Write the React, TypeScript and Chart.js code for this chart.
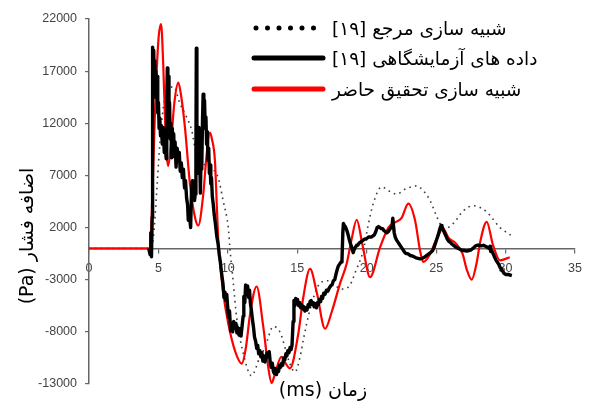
import React, { useEffect, useRef } from "react";
import { Chart, registerables } from "chart.js";

Chart.register(...registerables);

// ---- data (time in ms, overpressure in Pa) ----
const referenceSim: [number, number][] = [
  [0, 0], [4.5, 0], [4.7, 2000], [4.9, 6000], [5.1, 10000], [5.35, 13500], [5.7, 15200],
  [6.1, 15500], [6.55, 13900], [7.03, 12600], [7.4, 11300], [7.63, 9700], [8.0, 8500],
  [8.5, 7900], [8.9, 7600], [9.3, 6800], [9.67, 4500], [10.03, 2000], [10.15, 0],
  [10.4, -3400], [10.63, -6600], [11.1, -10000], [11.7, -12200], [12.31, -10400],
  [12.67, -9500], [13.27, -7500], [13.75, -8000], [14.47, -11050], [14.83, -11850],
  [15.2, -10400], [15.43, -8800], [15.91, -5900], [16.6, -3400], [17.2, -3100],
  [18.2, -3900], [18.8, -3500], [19.2, -2200], [19.75, -200], [20.1, 2200], [20.47, 4300],
  [21.08, 5900], [21.6, 5500], [22.16, 5200], [22.8, 5700], [23.6, 6000], [24.1, 5500],
  [24.56, 4600], [25.0, 3200], [25.27, 2400], [25.64, 1900], [26.24, 2400], [26.96, 3600],
  [27.68, 4100], [28.2, 3900], [28.64, 3500], [29.1, 2800], [29.6, 2000], [30.0, 1600],
  [30.4, 1250],
];

const experimental: [number, number][] = [
  [4.3, 0], [4.4, -600], [4.45, 1500], [4.5, -800], [4.55, 3000], [4.58, 19300],
  [4.62, 18500], [4.66, 19000], [4.7, 16000], [4.74, 18000], [4.78, 14500], [4.82, 17000],
  [4.86, 15000], [4.9, 16500], [4.95, 13000], [5.0, 14000], [5.05, 11500], [5.1, 12500],
  [5.15, 10800], [5.2, 11800], [5.28, 10000], [5.35, 11600], [5.42, 9200], [5.5, 9800],
  [5.56, 8600], [5.6, 14000], [5.64, 17300], [5.68, 15500], [5.72, 16500], [5.76, 12500],
  [5.8, 14000], [5.85, 10500], [5.9, 12000], [5.95, 8700], [6.0, 11500], [6.05, 9500],
  [6.1, 11000], [6.15, 8800], [6.2, 10200], [6.27, 7800], [6.35, 9600], [6.43, 8600],
  [6.5, 9200], [6.57, 7400], [6.65, 8200], [6.72, 6800], [6.8, 7600], [6.88, 5800],
  [6.95, 6500], [7.03, 4800], [7.1, 4200], [7.15, 2700], [7.22, 3400], [7.32, 2000],
  [7.38, 5400], [7.44, 6500], [7.48, 5200], [7.54, 6000], [7.6, 4600], [7.65, 5200],
  [7.7, 9000], [7.73, 19200], [7.77, 12000], [7.81, 9100], [7.86, 7200], [7.92, 11600],
  [7.97, 9000], [8.02, 5300], [8.07, 8800], [8.12, 7600], [8.17, 12000], [8.22, 14800],
  [8.27, 13000], [8.32, 14200], [8.37, 11500], [8.42, 12600], [8.47, 10000], [8.52, 11200],
  [8.57, 8400], [8.62, 9600], [8.67, 7200], [8.72, 8000], [8.77, 6200], [8.82, 6800],
  [8.88, 5000], [8.95, 4200], [9.02, 3200], [9.1, 2400], [9.2, 1200], [9.3, 400],
  [9.38, -600], [9.45, -1200], [9.55, -2400], [9.65, -3400], [9.72, -4700], [9.79, -4200],
  [9.85, -5000], [9.92, -4400], [9.98, -5500], [10.05, -6600], [10.12, -6000], [10.2, -7900],
  [10.27, -7200], [10.35, -8000], [10.42, -7000], [10.5, -7600], [10.58, -7200],
  [10.65, -8100], [10.72, -7600], [10.8, -8300], [10.87, -7700], [10.95, -8400],
  [11.02, -7500], [11.1, -6500], [11.15, -4600], [11.22, -5200], [11.28, -3500],
  [11.35, -4300], [11.42, -3600], [11.5, -4700], [11.56, -4000], [11.62, -5200],
  [11.7, -6000], [11.78, -6900], [11.85, -7600], [11.92, -8500], [12.0, -8900],
  [12.08, -9600], [12.15, -9300], [12.22, -10100], [12.3, -9800], [12.38, -10400],
  [12.45, -10000], [12.52, -10800], [12.6, -10300], [12.67, -10900], [12.75, -10500],
  [12.82, -10000], [12.9, -10400], [12.98, -9900], [13.05, -10900], [13.12, -11400],
  [13.2, -11000], [13.28, -11800], [13.35, -12000], [13.42, -11500], [13.5, -12100],
  [13.58, -11600], [13.65, -11800], [13.72, -11200], [13.8, -11400], [13.88, -11000],
  [13.95, -11200], [14.02, -10500], [14.1, -10700], [14.18, -10100], [14.25, -10300],
  [14.32, -9800], [14.4, -10000], [14.48, -9500], [14.55, -9700], [14.62, -9300],
  [14.7, -7000], [14.76, -5000], [14.82, -5500], [14.88, -4800], [14.95, -5300],
  [15.02, -4900], [15.1, -5500], [15.18, -5200], [15.25, -5700], [15.33, -5400],
  [15.4, -5800], [15.48, -5600], [15.55, -6000], [15.62, -5700], [15.7, -5900],
  [15.78, -5400], [15.85, -5600], [15.92, -5100], [16.0, -5000], [16.08, -5400],
  [16.15, -5200], [16.22, -5600], [16.3, -5300], [16.38, -5700], [16.45, -5200],
  [16.52, -5400], [16.6, -4900], [16.68, -5100], [16.75, -4600], [16.82, -4800],
  [16.9, -4300], [17.0, -4400], [17.1, -4000], [17.2, -4100], [17.3, -3800], [17.4, -3600],
  [17.5, -3500], [17.6, -3100], [17.7, -3000], [17.8, -2400], [17.88, -2000],
  [17.95, -1700], [18.05, -1500], [18.15, -1300], [18.22, -1100], [18.28, 1500],
  [18.32, 2400], [18.38, 2200], [18.45, 2100], [18.52, 1900], [18.6, 1600], [18.68, 1200],
  [18.75, 800], [18.82, 500], [18.9, 200], [18.98, -200], [19.03, -400], [19.1, -100],
  [19.18, 100], [19.27, 300], [19.35, 300], [19.45, 500], [19.55, 600], [19.65, 700],
  [19.75, 800], [19.85, 900], [19.95, 900], [20.05, 1000], [20.15, 1100], [20.25, 1100],
  [20.35, 1100], [20.45, 1200], [20.55, 1300], [20.65, 1600], [20.75, 2000], [20.85, 2100],
  [20.95, 2000], [21.05, 1900], [21.15, 1900], [21.25, 1700], [21.35, 1600], [21.45, 1500],
  [21.55, 1600], [21.65, 1800], [21.75, 2000], [21.82, 2100], [21.88, 2900], [21.92, 2300],
  [21.98, 1500], [22.05, 1100], [22.15, 800], [22.25, 600], [22.35, 400], [22.45, 200],
  [22.55, 0], [22.65, -200], [22.75, -400], [22.85, -500], [22.95, -500], [23.05, -600],
  [23.15, -700], [23.25, -700], [23.4, -800], [23.55, -900], [23.7, -950], [23.85, -1000],
  [24.0, -950], [24.15, -850], [24.3, -700], [24.45, -550], [24.6, -400], [24.75, -200],
  [24.85, 100], [24.95, 500], [25.05, 900], [25.15, 1300], [25.25, 1800], [25.35, 2200],
  [25.42, 2100], [25.5, 1800], [25.6, 1500], [25.7, 1200], [25.8, 900], [25.9, 700],
  [26.0, 600], [26.15, 400], [26.3, 250], [26.45, 100], [26.6, 0], [26.75, -100],
  [26.9, -200], [27.05, -200], [27.2, -250], [27.35, -200], [27.5, -150], [27.65, 0],
  [27.8, 200], [27.95, 300], [28.1, 300], [28.25, 250], [28.4, 300], [28.55, 200],
  [28.7, 100], [28.8, 0], [28.88, 200], [28.93, -300], [29.0, -200], [29.1, -500],
  [29.2, -800], [29.3, -1100], [29.4, -1300], [29.5, -1500], [29.6, -1800], [29.7, -2000],
  [29.8, -2200], [29.9, -2400], [30.0, -2500], [30.2, -2500], [30.45, -2600],
];

const presentSim: [number, number][] = [
  [0, 0], [4.4, 0], [4.51, 3000], [4.75, 13000], [5.0, 20000], [5.19, 21500], [5.35, 17500],
  [5.5, 11500], [5.7, 7900], [5.9, 10000], [6.15, 14000], [6.43, 15900], [6.65, 14500],
  [6.91, 11600], [7.27, 6200], [7.63, 3000], [7.87, 2200], [8.23, 5200], [8.47, 9000],
  [8.71, 11100], [8.85, 10500], [9.07, 8400], [9.19, 4600], [9.31, 800], [9.45, -1500],
  [9.67, -4300], [10.03, -7200], [10.51, -9800], [11.0, -11050], [11.3, -9500],
  [11.6, -6300], [12.07, -3650], [12.55, -7500], [12.91, -11400], [13.15, -12900],
  [13.4, -12000], [13.85, -10400], [14.15, -11000], [14.47, -11500], [15.07, -8200],
  [15.43, -4700], [15.92, -1950], [16.4, -4200], [17.0, -7700], [17.5, -6000],
  [18.07, -3400], [18.55, -1500], [18.9, 800], [19.28, 2750], [19.7, 300], [20.24, -2750],
  [20.96, 100], [21.56, 2000], [22.04, 2500], [22.5, 2900], [23.0, 4300], [23.48, 2700],
  [23.84, -200], [24.07, -1300], [24.5, -700], [25.0, 800], [25.5, 1900], [25.9, 1000],
  [26.4, 500], [26.9, -500], [27.2, -2000], [27.56, -3000], [27.9, -1500], [28.2, 800],
  [28.64, 2550], [29.1, 300], [29.6, -1150], [30.0, -1000], [30.3, -850],
];

const xTickValues = [0, 5, 10, 15, 20, 25, 30, 35];
const yTickValues = [-13000, -8000, -3000, 2000, 7000, 12000, 17000, 22000];

const seriesLabels = [
  "شبیه سازی مرجع [۱۹]",
  "داده های آزمایشگاهی [۱۹]",
  "شبیه سازی تحقیق حاضر",
];
const xAxisTitle = "زمان (ms)";
const yAxisTitle = "اضافه فشار (Pa)";

const ARABIC_FONT = '"DejaVu Sans", "Noto Sans", sans-serif';

const toPoints = (arr: [number, number][]) => arr.map(([x, y]) => ({ x, y }));

const annotationPlugin = {
  id: "annotationPlugin",
  afterDraw(chart: any) {
    const { ctx, chartArea } = chart;
    const L = chartArea.left;
    const T = chartArea.top;
    ctx.save();
    ctx.fillStyle = "#000";
    (ctx as any).direction = "rtl";

    // y-axis title (rotated)
    ctx.save();
    ctx.translate(L - 61, T + 217);
    ctx.rotate(-Math.PI / 2);
    ctx.font = `19px ${ARABIC_FONT}`;
    ctx.textAlign = "center";
    ctx.textBaseline = "middle";
    ctx.fillText(yAxisTitle, 0, 0);
    ctx.restore();

    // x-axis title
    ctx.font = `19px ${ARABIC_FONT}`;
    ctx.textAlign = "center";
    ctx.textBaseline = "middle";
    ctx.fillText(xAxisTitle, L + 234, T + 372);

    // legend
    const rows = [T + 9, T + 39, T + 70];
    const x0 = L + 165;
    const x1 = L + 234;
    const ds = chart.data.datasets;
    const legendOrder = [0, 1, 2];
    legendOrder.forEach((i, r) => {
      const d = ds[i];
      const y = rows[r];
      ctx.save();
      ctx.strokeStyle = i === 0 ? "#000" : d.borderColor;
      ctx.lineCap = "round";
      ctx.lineWidth = 5;
      if (i === 0) ctx.setLineDash([0, 11.5]);
      ctx.beginPath();
      ctx.moveTo(x0 + (i === 0 ? 2 : 0), y);
      ctx.lineTo(i === 0 ? x0 + 60 : x1, y);
      ctx.stroke();
      ctx.restore();
      ctx.font = `18.5px ${ARABIC_FONT}`;
      ctx.textAlign = "left";
      ctx.textBaseline = "middle";
      ctx.fillStyle = "#000";
      ctx.fillText(d.label, L + 243, y + 2);
    });
    ctx.restore();
  },
};

const tickFont = { family: '"Liberation Sans", Arial, sans-serif', size: 12.5 };

export default function App() {
  const canvasRef = useRef<HTMLCanvasElement | null>(null);

  useEffect(() => {
    if (!canvasRef.current) return;
    const chart = new Chart(canvasRef.current, {
      type: "line",
      data: {
        datasets: [
          {
            label: seriesLabels[0],
            data: toPoints(referenceSim),
            borderColor: "#3c3c3c",
            borderWidth: 1.6,
            borderDash: [1.6, 4.2],
            pointRadius: 0,
            cubicInterpolationMode: "monotone",
            order: 2,
          },
          {
            label: seriesLabels[1],
            data: toPoints(experimental),
            borderColor: "#000000",
            borderWidth: 3.4,
            pointRadius: 0,
            tension: 0,
            borderJoinStyle: "round",
            order: 0,
          },
          {
            label: seriesLabels[2],
            data: toPoints(presentSim),
            borderColor: "#ff0000",
            borderWidth: 2.2,
            pointRadius: 0,
            cubicInterpolationMode: "monotone",
            order: 1,
          },
        ],
      },
      options: {
        animation: false,
        responsive: false,
        parsing: false as any,
        layout: { padding: { left: 0, right: 17, top: 19, bottom: 20 } },
        plugins: {
          legend: { display: false },
          tooltip: { enabled: false },
          title: { display: false },
        },
        scales: {
          x: {
            type: "linear",
            position: { y: 0 } as any,
            min: 0,
            max: 35,
            afterBuildTicks: (s: any) => {
              s.ticks = xTickValues.map((v) => ({ value: v }));
            },
            grid: { display: true, drawOnChartArea: false, drawTicks: true, tickLength: 4, color: "#666", lineWidth: 1.2 },
            border: { display: true, color: "#666", width: 1.5 },
            ticks: {
              font: tickFont,
              color: "#444",
              padding: 9,
              maxRotation: 0,
              autoSkip: false,
              callback: (v: any) => String(v),
            },
          },
          y: {
            type: "linear",
            min: -13000,
            max: 22000,
            afterBuildTicks: (s: any) => {
              s.ticks = yTickValues.map((v) => ({ value: v }));
            },
            afterFit: (s: any) => {
              s.width = 89;
            },
            grid: { display: true, drawOnChartArea: false, drawTicks: true, tickLength: 4, color: "#666", lineWidth: 1.2 },
            border: { display: true, color: "#666", width: 1.5 },
            ticks: {
              font: tickFont,
              color: "#444",
              padding: 8,
              autoSkip: false,
              callback: (v: any) => String(v),
            },
          },
        },
      },
      plugins: [annotationPlugin],
    });
    return () => chart.destroy();
  }, []);

  return (
    <div style={{ position: "absolute", left: 0, top: 0, width: 592, height: 404, background: "#fff" }}>
      <canvas ref={canvasRef} width={592} height={404} style={{ display: "block" }} />
    </div>
  );
}
